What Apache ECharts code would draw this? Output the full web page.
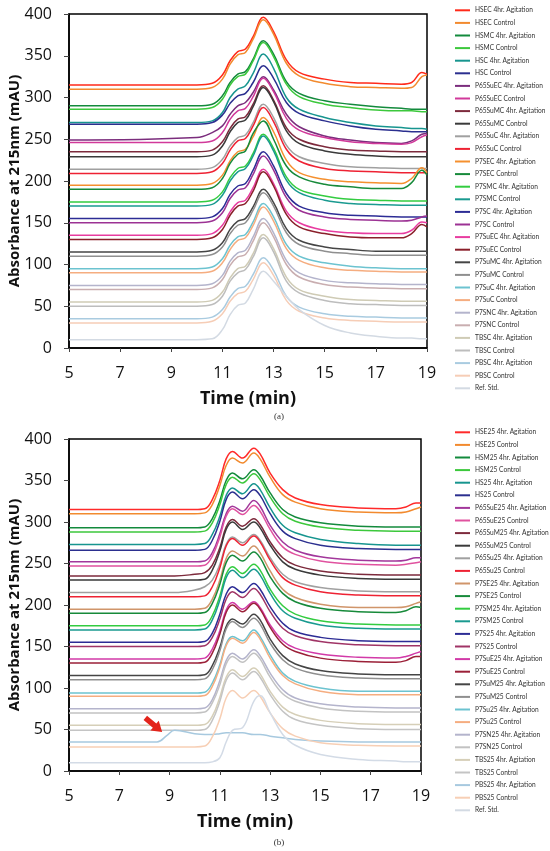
<!DOCTYPE html>
<html>
<head lang="en">
    <meta charset="UTF-8">
    <title>Chromatograms</title>
    <style>
        html, body { margin: 0; padding: 0; background: #fff; }
        #container { width: 550px; height: 851px; }
    </style>
</head>
<body>
<div id="container"></div>
<script type="text/javascript" src="https://cdn.jsdelivr.net/npm/echarts@6.0.0/dist/echarts.min.js"></script>
<script type="text/javascript">
    var timesA = [5, 10, 10.6, 11, 11.3, 11.6, 11.9, 12.2, 12.6, 13, 13.5, 14, 15, 16, 17, 18, 18.4, 18.8, 19];
    var timesB = [5, 8.5, 8.9, 9.2, 10, 10.4, 10.7, 11, 11.25, 11.5, 11.9, 12.35, 12.6, 13, 13.5, 14, 15, 16.5, 18, 18.4, 18.8, 19];

    var namesA = ['HSEC 4hr. Agitation', 'HSEC Control', 'HSMC 4hr. Agitation', 'HSMC Control',
        'HSC 4hr. Agitation', 'HSC Control', 'P65SuEC 4hr. Agitation', 'P65SuEC Control',
        'P65SuMC 4hr. Agitation', 'P65SuMC Control', 'P65SuC 4hr. Agitation', 'P65SuC Control',
        'P7SEC 4hr. Agitation', 'P7SEC Control', 'P7SMC 4hr. Agitation', 'P7SMC Control',
        'P7SC 4hr. Agitation', 'P7SC Control', 'P7SuEC 4hr. Agitation', 'P7SuEC Control',
        'P7SuMC 4hr. Agitation', 'P7SuMC Control', 'P7SuC 4hr. Agitation', 'P7SuC Control',
        'P7SNC 4hr. Agitation', 'P7SNC Control', 'TBSC 4hr. Agitation', 'TBSC Control',
        'PBSC 4hr. Agitation', 'PBSC Control', 'Ref. Std.'];

    var namesB = ['HSE25 4hr. Agitation', 'HSE25 Control', 'HSM25 4hr. Agitation', 'HSM25 Control',
        'HS25 4hr. Agitation', 'HS25 Control', 'P65SuE25 4hr. Agitation', 'P65SuE25 Control',
        'P65SuM25 4hr. Agitation', 'P65SuM25 Control', 'P65Su25 4hr. Agitation', 'P65Su25 Control',
        'P7SE25 4hr. Agitation', 'P7SE25 Control', 'P7SM25 4hr. Agitation', 'P7SM25 Control',
        'P7S25 4hr. Agitation', 'P7S25 Control', 'P7SuE25 4hr. Agitation', 'P7SuE25 Control',
        'P7SuM25 4hr. Agitation', 'P7SuM25 Control', 'P7Su25 4hr. Agitation', 'P7Su25 Control',
        'P7SN25 4hr. Agitation', 'P7SN25 Control', 'TBS25 4hr. Agitation', 'TBS25 Control',
        'PBS25 4hr. Agitation', 'PBS25 Control', 'Ref. Std.'];

    var colorsA = ['#ff2a1a', '#f28a2e', '#138a3c', '#3cc83c', '#17958f', '#2b2f8f', '#7b2d7d', '#d1399a',
        '#7d2a3c', '#3a3a3a', '#a0a0a0', '#ee2233', '#f5902f', '#178a3a', '#33cc40', '#1a9a90',
        '#2c2c95', '#9c3294', '#e83ca0', '#8a1f2a', '#454545', '#8f8f8f', '#6cc3d0', '#f5ad80',
        '#b4b4cc', '#c9aeb0', '#cfcbb5', '#bdbdbd', '#a9cbe0', '#f6cdb6', '#d3dae3'];

    var colorsB = ['#ff2a2a', '#f28a2e', '#138a3c', '#3cc83c', '#17958f', '#2b2f8f', '#a2379b', '#e0529f',
        '#7d2a3c', '#3a3a3a', '#a0a0a0', '#ee2233', '#d0956a', '#178a3a', '#33cc40', '#1a9a90',
        '#2c2c95', '#a03466', '#d23aa8', '#9b2038', '#454545', '#8f8f8f', '#6cc3d0', '#f5ad80',
        '#b4b4cc', '#c2c2c2', '#d6cfb8', '#c4c4c4', '#a7c9df', '#f7cfb5', '#d3dbe6'];

    // absorbance (mAU) of each trace at timesA, panel (a)
    var tracesA = [
        [315, 315, 317, 327, 344, 355, 358, 373, 396, 379, 345, 330, 322, 318, 317, 316, 318, 330, 328],
        [310, 310, 312, 322, 340, 351, 354, 370, 393, 376, 341, 326, 317, 313, 312, 311, 312, 325, 327],
        [290, 290, 292, 302, 318, 328, 331, 346, 368, 352, 319, 305, 296, 292, 289, 287, 286, 286, 286],
        [286, 286, 288, 298, 315, 325, 328, 344, 366, 349, 316, 301, 292, 288, 285, 284, 284, 283, 283],
        [270, 270, 272, 282, 300, 310, 314, 329, 352, 335, 300, 286, 276, 270, 266, 264, 263, 263, 262],
        [268, 268, 270, 279, 293, 302, 305, 318, 338, 323, 294, 281, 272, 266, 262, 260, 259, 259, 259],
        [249, 252, 258, 266, 280, 290, 294, 306, 325, 309, 280, 265, 254, 249, 246, 245, 248, 256, 257],
        [246, 246, 248, 258, 274, 284, 287, 301, 323, 307, 275, 261, 252, 247, 245, 244, 246, 253, 255],
        [235, 235, 237, 247, 263, 274, 277, 292, 314, 297, 264, 250, 241, 237, 236, 235, 235, 235, 235],
        [229, 229, 231, 242, 259, 270, 273, 289, 312, 295, 260, 245, 236, 232, 230, 229, 229, 229, 229],
        [214, 214, 216, 226, 242, 252, 255, 270, 292, 276, 243, 229, 221, 217, 216, 215, 215, 215, 215],
        [209, 209, 211, 221, 237, 248, 251, 266, 288, 271, 238, 224, 215, 212, 211, 210, 210, 210, 210],
        [195, 195, 197, 207, 224, 235, 238, 253, 276, 259, 225, 210, 202, 199, 198, 197, 203, 216, 210],
        [190, 190, 192, 203, 221, 232, 236, 257, 272, 250, 218, 205, 196, 193, 191, 191, 198, 213, 207],
        [175, 175, 177, 187, 204, 215, 218, 233, 256, 239, 205, 190, 182, 178, 177, 176, 176, 176, 176],
        [170, 170, 172, 183, 200, 211, 215, 230, 254, 236, 201, 186, 177, 173, 172, 171, 171, 171, 171],
        [155, 155, 157, 167, 184, 194, 197, 213, 235, 218, 185, 170, 162, 159, 158, 157, 157, 157, 157],
        [150, 150, 152, 162, 179, 189, 192, 208, 230, 213, 180, 165, 157, 154, 153, 152, 153, 157, 158],
        [135, 135, 137, 147, 163, 174, 177, 192, 214, 197, 164, 150, 141, 138, 137, 137, 141, 151, 150],
        [130, 130, 132, 142, 159, 170, 173, 188, 211, 194, 160, 145, 137, 133, 132, 132, 137, 148, 145],
        [115, 115, 117, 126, 142, 152, 155, 169, 190, 174, 143, 129, 121, 118, 116, 116, 116, 116, 116],
        [110, 110, 112, 121, 137, 147, 150, 165, 186, 170, 138, 124, 116, 113, 111, 111, 111, 111, 111],
        [95, 95, 97, 107, 123, 133, 136, 151, 173, 157, 124, 110, 102, 98, 96, 95, 95, 95, 95],
        [90, 90, 92, 102, 118, 129, 132, 147, 169, 152, 119, 105, 96, 93, 92, 91, 91, 91, 91],
        [75, 75, 77, 87, 104, 114, 117, 133, 155, 138, 105, 90, 81, 78, 77, 76, 76, 76, 76],
        [70, 70, 72, 82, 99, 109, 112, 128, 150, 133, 100, 85, 76, 73, 72, 71, 71, 71, 71],
        [55, 55, 57, 67, 84, 95, 98, 113, 136, 119, 85, 70, 62, 58, 57, 56, 56, 56, 56],
        [50, 50, 52, 62, 80, 90, 94, 109, 132, 115, 80, 66, 57, 53, 52, 51, 51, 51, 51],
        [35, 35, 37, 46, 61, 71, 74, 88, 108, 93, 62, 49, 41, 38, 37, 36, 36, 36, 36],
        [30, 30, 32, 41, 56, 65, 68, 82, 102, 87, 57, 44, 36, 33, 32, 31, 31, 31, 31],
        [10, 10, 11, 22, 40, 51, 54, 70, 92, 80, 62, 46, 27, 18, 14, 12, 12, 11, 11]
    ];

    // absorbance (mAU) of each trace at timesB, panel (b)
    var tracesB = [
        [315, 315, 315, 315, 315, 316, 327, 350, 376, 385, 377, 389, 382, 359, 339, 329, 321, 317, 316, 318, 323, 323],
        [310, 310, 310, 310, 310, 311, 321, 344, 368, 377, 371, 383, 376, 354, 333, 324, 316, 312, 311, 312, 316, 318],
        [293, 293, 293, 293, 293, 294, 304, 326, 350, 359, 352, 363, 356, 335, 315, 306, 299, 295, 294, 294, 294, 294],
        [288, 288, 288, 288, 288, 289, 299, 321, 345, 354, 347, 358, 351, 330, 310, 301, 294, 290, 289, 289, 289, 289],
        [273, 273, 273, 273, 273, 274, 285, 307, 332, 341, 334, 346, 339, 317, 296, 287, 279, 274, 272, 272, 272, 272],
        [266, 266, 266, 266, 266, 267, 278, 301, 327, 336, 328, 339, 332, 310, 289, 280, 272, 268, 267, 267, 267, 267],
        [252, 252, 252, 252, 252, 253, 263, 286, 310, 319, 313, 326, 319, 296, 276, 266, 258, 254, 253, 254, 257, 257],
        [247, 247, 247, 247, 247, 248, 259, 282, 307, 316, 309, 320, 313, 291, 270, 261, 253, 249, 248, 249, 251, 252],
        [235, 235, 235, 235, 237, 239, 248, 269, 294, 303, 295, 304, 297, 276, 257, 248, 241, 237, 236, 236, 236, 236],
        [230, 230, 230, 230, 230, 231, 242, 265, 291, 300, 291, 300, 293, 272, 252, 243, 236, 232, 231, 231, 231, 231],
        [215, 215, 215, 215, 218, 222, 230, 249, 273, 282, 275, 285, 278, 257, 237, 228, 221, 217, 216, 216, 216, 216],
        [210, 210, 210, 210, 210, 211, 222, 245, 271, 280, 272, 283, 276, 254, 233, 224, 216, 212, 211, 211, 211, 211],
        [195, 195, 195, 195, 195, 196, 207, 230, 256, 265, 259, 271, 263, 241, 219, 209, 201, 197, 197, 198, 202, 204],
        [190, 190, 190, 190, 190, 191, 202, 225, 251, 260, 253, 264, 257, 234, 214, 204, 196, 192, 191, 193, 198, 197],
        [175, 175, 175, 175, 175, 176, 187, 211, 237, 246, 238, 249, 242, 219, 199, 189, 181, 177, 176, 176, 176, 176],
        [170, 170, 170, 170, 170, 171, 182, 206, 233, 242, 233, 243, 236, 214, 193, 184, 176, 172, 171, 171, 171, 171],
        [155, 155, 155, 155, 155, 156, 166, 189, 213, 222, 215, 226, 219, 198, 178, 168, 161, 157, 156, 156, 156, 156],
        [150, 150, 150, 150, 150, 151, 161, 183, 207, 216, 209, 220, 213, 192, 172, 163, 156, 152, 151, 151, 151, 151],
        [135, 135, 135, 135, 135, 136, 147, 169, 194, 203, 195, 204, 197, 176, 157, 148, 141, 137, 136, 138, 142, 144],
        [130, 130, 130, 130, 130, 131, 142, 165, 191, 200, 192, 202, 195, 173, 153, 144, 136, 132, 131, 133, 138, 138],
        [115, 115, 115, 115, 115, 116, 127, 149, 174, 183, 177, 189, 182, 159, 139, 129, 121, 117, 116, 116, 116, 116],
        [110, 110, 110, 110, 110, 111, 122, 145, 171, 180, 173, 184, 177, 154, 134, 124, 116, 112, 111, 111, 111, 111],
        [94, 94, 94, 94, 94, 95, 106, 128, 153, 162, 157, 170, 162, 140, 118, 108, 100, 96, 96, 96, 96, 96],
        [90, 90, 90, 90, 90, 91, 102, 125, 151, 160, 154, 167, 159, 136, 115, 105, 96, 92, 92, 92, 92, 92],
        [75, 75, 75, 75, 75, 76, 86, 109, 133, 142, 135, 146, 139, 118, 98, 88, 81, 77, 76, 76, 76, 76],
        [70, 70, 70, 70, 70, 71, 82, 104, 129, 138, 131, 142, 135, 113, 93, 84, 76, 72, 71, 71, 71, 71],
        [55, 55, 55, 55, 55, 56, 66, 89, 113, 122, 114, 124, 117, 96, 77, 68, 61, 57, 56, 56, 56, 56],
        [49, 49, 49, 49, 49, 50, 61, 84, 109, 118, 110, 120, 113, 92, 72, 62, 55, 51, 50, 50, 50, 50],
        [35, 35, 43, 49, 45, 44, 44, 45, 46, 46, 46, 44, 44, 42, 40, 38, 36, 35, 35, 35, 35, 35],
        [29, 29, 29, 29, 29, 30, 41, 63, 88, 97, 88, 97, 90, 70, 51, 42, 34, 31, 30, 30, 30, 30],
        [10, 10, 10, 10, 10, 10, 11, 16, 35, 49, 52, 84, 91, 70, 44, 31, 20, 14, 12, 11, 11, 11]
    ];

    var tickFont = '"Open Sans", sans-serif';

    function makeX(idx) {
        return {
            type: 'value', gridIndex: idx, min: 5, max: 19, interval: 2,
            name: 'Time (min)', nameLocation: 'middle', nameGap: 42,
            nameTextStyle: {fontFamily: tickFont, fontWeight: 'bold', fontSize: 18, color: '#111'},
            axisLine: {lineStyle: {color: '#000', width: 1.5}},
            axisTick: {show: true, length: 4, lineStyle: {color: '#444'}},
            axisLabel: {fontFamily: tickFont, fontSize: 16, color: '#111', margin: 17},
            splitLine: {show: false}
        };
    }

    function makeY(idx) {
        return {
            type: 'value', gridIndex: idx, min: 0, max: 400, interval: 50,
            name: 'Absorbance at 215nm (mAU)', nameLocation: 'middle', nameGap: 47,
            nameMoveOverlap: false,
            nameTextStyle: {fontFamily: tickFont, fontWeight: 'bold', fontSize: 15, color: '#111'},
            axisLine: {show: true, lineStyle: {color: '#000', width: 1.5}},
            axisTick: {show: true, length: 5, lineStyle: {color: '#444'}},
            axisLabel: {fontFamily: tickFont, fontSize: 16, color: '#111', margin: 17},
            splitLine: {show: false}
        };
    }

    function makeLegend(names, top) {
        return {
            data: names, orient: 'vertical', left: 450, top: top,
            icon: 'rect', itemWidth: 15, itemHeight: 2, itemGap: 0,
            textStyle: {fontFamily: 'Lato, sans-serif', fontSize: 6.6, color: '#333', lineHeight: 12.6}
        };
    }

    var series = [];
    function addTraces(names, colors, traces, times, idx) {
        traces.forEach(function (vals, i) {
            series.push({
                name: names[i], type: 'line', xAxisIndex: idx, yAxisIndex: idx,
                data: vals.map(function (v, k) { return [times[k], v]; }),
                smooth: 0.4, symbol: 'none', silent: true,
                lineStyle: {color: colors[i], width: 1.5},
                itemStyle: {color: colors[i]}
            });
        });
    }
    addTraces(namesA, colorsA, tracesA, timesA, 0);
    addTraces(namesB, colorsB, tracesB, timesB, 1);

    // red arrow pointing at the early peak of PBS25 4hr. Agitation
    series[31 + 28].markPoint = {
        silent: true,
        label: {show: false},
        data: [{
            coord: [8.37, 55.5],
            symbol: 'path://M0,3.5 L11,3.5 L11,0 L20,6 L11,12 L11,8.5 L0,8.5 Z',
            symbolSize: [22, 13],
            symbolRotate: -40,
            itemStyle: {color: '#e3241b'}
        }]
    };

    var option = {
        animation: false,
        backgroundColor: '#fff',
        grid: [
            {left: 69, top: 14, width: 358, height: 334, show: true, borderColor: '#000', borderWidth: 1.5,
                containLabel: false, outerBoundsMode: 'none'},
            {left: 69, top: 439, width: 352, height: 332, show: true, borderColor: '#000', borderWidth: 1.5,
                containLabel: false, outerBoundsMode: 'none'}
        ],
        xAxis: [makeX(0), makeX(1)],
        yAxis: [makeY(0), makeY(1)],
        legend: [makeLegend(namesA, -1), makeLegend(namesB, 421)],
        graphic: [
            {type: 'text', x: 279, y: 417, style: {text: '(a)', font: '9px "Liberation Serif", serif', fill: '#333', textAlign: 'center', textVerticalAlign: 'middle'}},
            {type: 'text', x: 279, y: 843, style: {text: '(b)', font: '9px "Liberation Serif", serif', fill: '#333', textAlign: 'center', textVerticalAlign: 'middle'}}
        ],
        series: series
    };

    var myChart = echarts.init(document.getElementById('container'));
    myChart.setOption(option);
</script>
</body>
</html>
